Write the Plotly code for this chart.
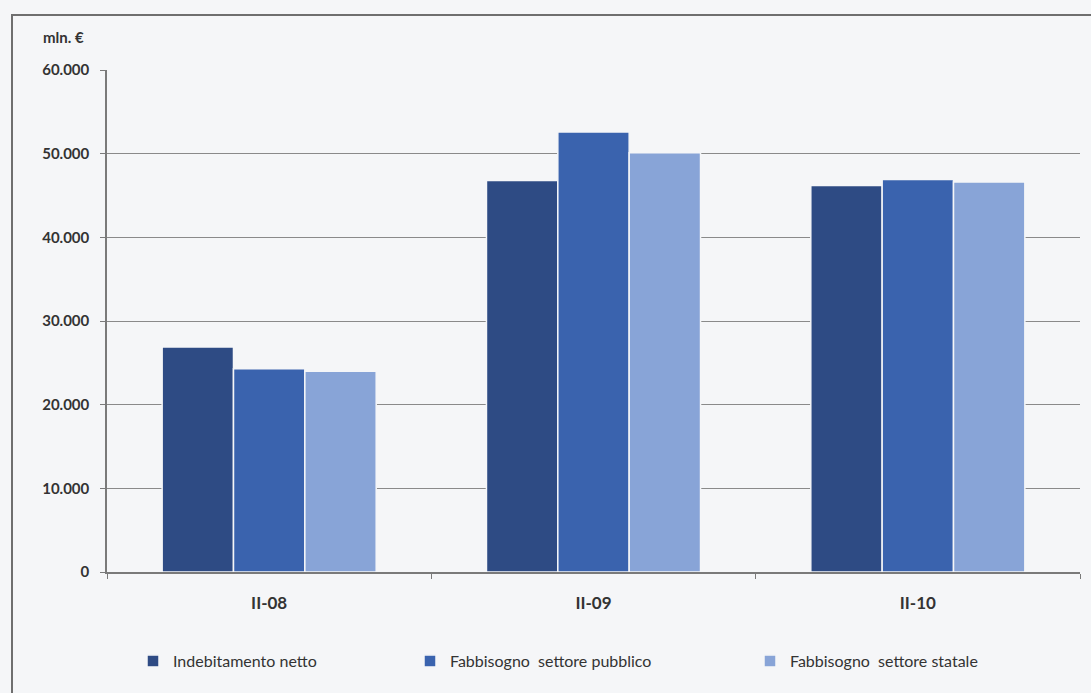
import plotly.graph_objects as go

# Quarterly figures, million euro
periods = ["II-08", "II-09", "II-10"]
indebitamento_netto = [26900, 46800, 46200]
fabbisogno_pubblico = [24300, 52600, 46900]
fabbisogno_statale = [24000, 50100, 46600]

series = [
    ("Indebitamento netto", indebitamento_netto, "#2E4B84", "legend"),
    ("Fabbisogno  settore pubblico", fabbisogno_pubblico, "#3A63AE", "legend2"),
    ("Fabbisogno  settore statale", fabbisogno_statale, "#88A4D7", "legend3"),
]

y_ticks = [0, 10000, 20000, 30000, 40000, 50000, 60000]

font_family = "Lato, 'Open Sans', sans-serif"
text_color = "#333333"

# plot area geometry in pixels
W, H = 1091, 693
L, R, T, B = 107, 11, 70, 121
PW = W - L - R
PH = H - T - B


def px_x(x):
    return (x - L) / PW


def px_y(y):
    return (H - B - y) / PH


fig = go.Figure()
for name, values, color, leg in series:
    fig.add_trace(go.Bar(
        x=periods,
        y=values,
        name=name,
        legend=leg,
        marker=dict(color=color, line=dict(color="#f5f6f8", width=1.5)),
    ))

legend_style = dict(
    orientation="h",
    yanchor="middle",
    y=px_y(661),
    xanchor="left",
    font=dict(family=font_family, size=16, color=text_color),
    bgcolor="rgba(0,0,0,0)",
)

fig.update_layout(
    width=W,
    height=H,
    margin=dict(l=L, r=R, t=T, b=B),
    paper_bgcolor="#f5f6f8",
    plot_bgcolor="#f5f6f8",
    barmode="group",
    bargap=0.34,
    bargroupgap=0.0,
    separators=",.",
    font=dict(family=font_family, size=15, color=text_color),
    showlegend=True,
    legend=dict(legend_style, x=px_x(133)),
    legend2=dict(legend_style, x=px_x(410)),
    legend3=dict(legend_style, x=px_x(750)),
    xaxis=dict(
        type="category",
        showgrid=False,
        showline=True,
        linecolor="#7a7a7a",
        linewidth=1.5,
        ticks="outside",
        tickson="boundaries",
        ticklen=5,
        tickcolor="#7a7a7a",
        tickfont=dict(family=font_family, size=17, color=text_color, weight="bold"),
        ticklabelstandoff=15,
    ),
    yaxis=dict(
        range=[0, 60000],
        tickvals=y_ticks,
        tickformat=",d",
        showgrid=True,
        gridcolor="#8a8a8a",
        gridwidth=1.2,
        showline=True,
        linecolor="#7a7a7a",
        linewidth=1.5,
        ticks="outside",
        ticklen=5,
        tickcolor="#7a7a7a",
        zeroline=False,
        tickfont=dict(family=font_family, size=15, color=text_color, weight="bold"),
        ticklabelstandoff=8,
    ),
    shapes=[
        dict(
            type="rect", xref="paper", yref="paper",
            x0=px_x(12), x1=px_x(1100), y0=px_y(700), y1=px_y(15),
            line=dict(color="#6f6f6f", width=2),
            fillcolor="rgba(0,0,0,0)",
            layer="below",
        )
    ],
    annotations=[
        dict(
            text="mln. €", xref="paper", yref="paper",
            x=px_x(41), y=px_y(37), xanchor="left", yanchor="middle",
            showarrow=False,
            font=dict(family=font_family, size=15, color=text_color, weight="bold"),
        )
    ],
)

fig.write_html("out.html")
